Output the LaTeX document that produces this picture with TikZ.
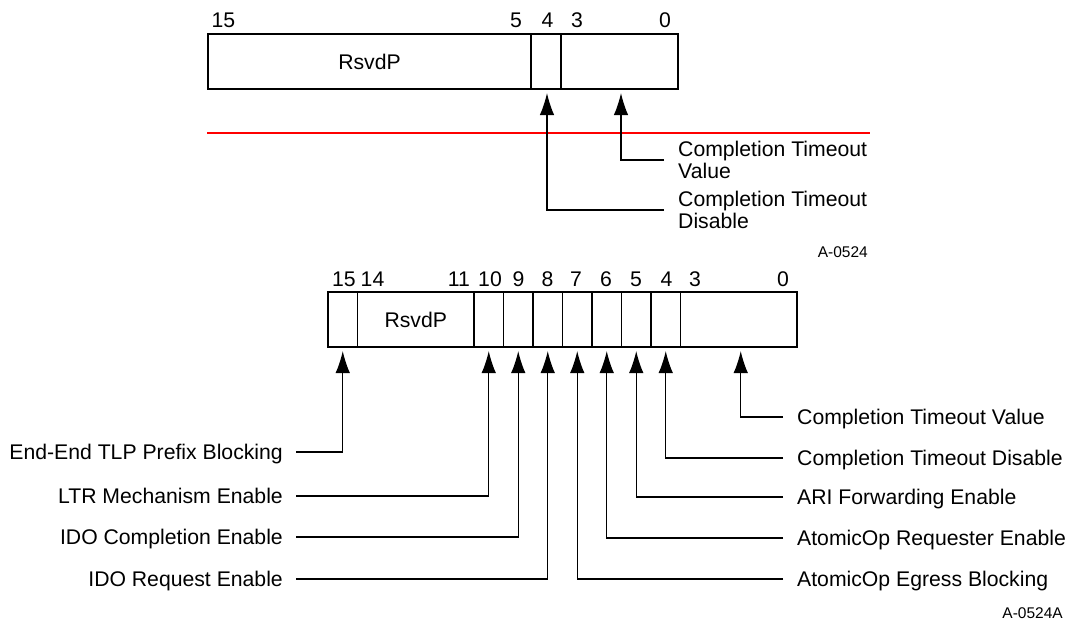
\documentclass[tikz,border=0pt]{standalone}
\usepackage{fontspec}
\setmainfont{Liberation Sans}
\usetikzlibrary{positioning, arrows.meta}

\begin{document}
\begin{tikzpicture}[x=1pt, y=-1pt,
  cell/.style={draw, line width=1.5pt, minimum height=55pt, minimum width=29.5pt,
               inner sep=0pt, outer sep=0pt, font=\fontsize{21.2}{22}\selectfont},
  bitno/.style={inner sep=0pt, text height=15pt, text depth=0pt,
                font=\fontsize{21.2}{22}\selectfont},
  fieldlbl/.style={inner sep=0pt, text height=15pt, text depth=0pt,
                   font=\fontsize{21.2}{22}\selectfont},
  fieldlbl2/.style={inner sep=0pt, align=left, font=\fontsize{21.2}{22}\selectfont},
  ptr/.style={line width=1.3pt, -{Latex[length=22pt,width=14.5pt]}, shorten >=4pt},
  figid/.style={inner sep=0pt, font=\fontsize{15.5}{17}\selectfont},
]
\useasboundingbox (0,0) rectangle (1072,629);

% upper register
\node[cell, minimum width=323pt, anchor=north west] (t-rsvd) at (208,34) {RsvdP};
\node[cell, minimum width=30pt, right=0pt of t-rsvd] (t-b4) {};
\node[cell, minimum width=117pt, right=0pt of t-b4] (t-lo) {};

\foreach \x/\n in {223.5/15, 516/5, 547.5/4, 577/3, 665/0}
  \node[bitno] at (\x,20) {\n};

\draw[red, line width=1.3pt] (207,133) -- (870,133);

\node[fieldlbl2, anchor=west] (t-ctv) at (678,160) {Completion Timeout\\Value};
\node[fieldlbl2, anchor=west] (t-ctd) at (678,210) {Completion Timeout\\Disable};

\draw[ptr, shorten <=14pt] (t-ctv.west) -| ([xshift=1.5pt]t-lo.south);
\draw[ptr, shorten <=14pt] (t-ctd.west) -| ([xshift=1pt]t-b4.south);

\node[figid, anchor=east] (id-a) at (868,252) {A-0524};

% lower register
\node[cell, anchor=north west] (b15) at (328,292) {};
\node[cell, minimum width=116.5pt, right=0pt of b15] (b-rsvd) {RsvdP\hspace{8pt}};
\node[cell, right=0pt of b-rsvd] (b10) {};
\node[cell, right=0pt of b10] (b9) {};
\node[cell, right=0pt of b9] (b8) {};
\node[cell, right=0pt of b8] (b7) {};
\node[cell, right=0pt of b7] (b6) {};
\node[cell, right=0pt of b6] (b5) {};
\node[cell, right=0pt of b5] (b4) {};
\node[cell, minimum width=116.5pt, right=0pt of b4] (b-lo) {};

\foreach \x/\n in {344/15, 372.5/14, 459/11, 490/10, 518.5/9, 547.5/8,
                   576/7, 606/6, 636/5, 666.5/4, 695/3, 783/0}
  \node[bitno] at (\x,278.5) {\n};

% field names, left side
\node[fieldlbl, anchor=east] (eeb)  at (283,452) {End-End TLP Prefix Blocking};
\node[fieldlbl, anchor=east] (ltr)  at (283,496) {LTR Mechanism Enable};
\node[fieldlbl, anchor=east] (idoc) at (283,537) {IDO Completion Enable};
\node[fieldlbl, anchor=east] (idor) at (283,579) {IDO Request Enable};

% field names, right side
\node[fieldlbl, anchor=west] (ctv)  at (797,417) {Completion Timeout Value};
\node[fieldlbl, anchor=west] (ctd)  at (797,458) {Completion Timeout Disable};
\node[fieldlbl, anchor=west] (ari)  at (797,497) {ARI Forwarding Enable};
\node[fieldlbl, anchor=west] (aore) at (797,538) {AtomicOp Requester Enable};
\node[fieldlbl, anchor=west] (aoeb) at (797,579) {AtomicOp Egress Blocking};

\draw[ptr, shorten <=13pt] (eeb.east)  -| (b15.south);
\draw[ptr, shorten <=13pt] (ltr.east)  -| (b10.south);
\draw[ptr, shorten <=13pt] (idoc.east) -| (b9.south);
\draw[ptr, shorten <=13pt] (idor.east) -| (b8.south);

\draw[ptr, shorten <=14pt] (ctv.west)  -| ([xshift=2pt]b-lo.south);
\draw[ptr, shorten <=14pt] (ctd.west)  -| (b4.south);
\draw[ptr, shorten <=14pt] (ari.west)  -| (b5.south);
\draw[ptr, shorten <=14pt] (aore.west) -| (b6.south);
\draw[ptr, shorten <=14pt] (aoeb.west) -| (b7.south);

\node[figid, anchor=east] (id-b) at (1063,613) {A-0524A};
\end{tikzpicture}
\end{document}
